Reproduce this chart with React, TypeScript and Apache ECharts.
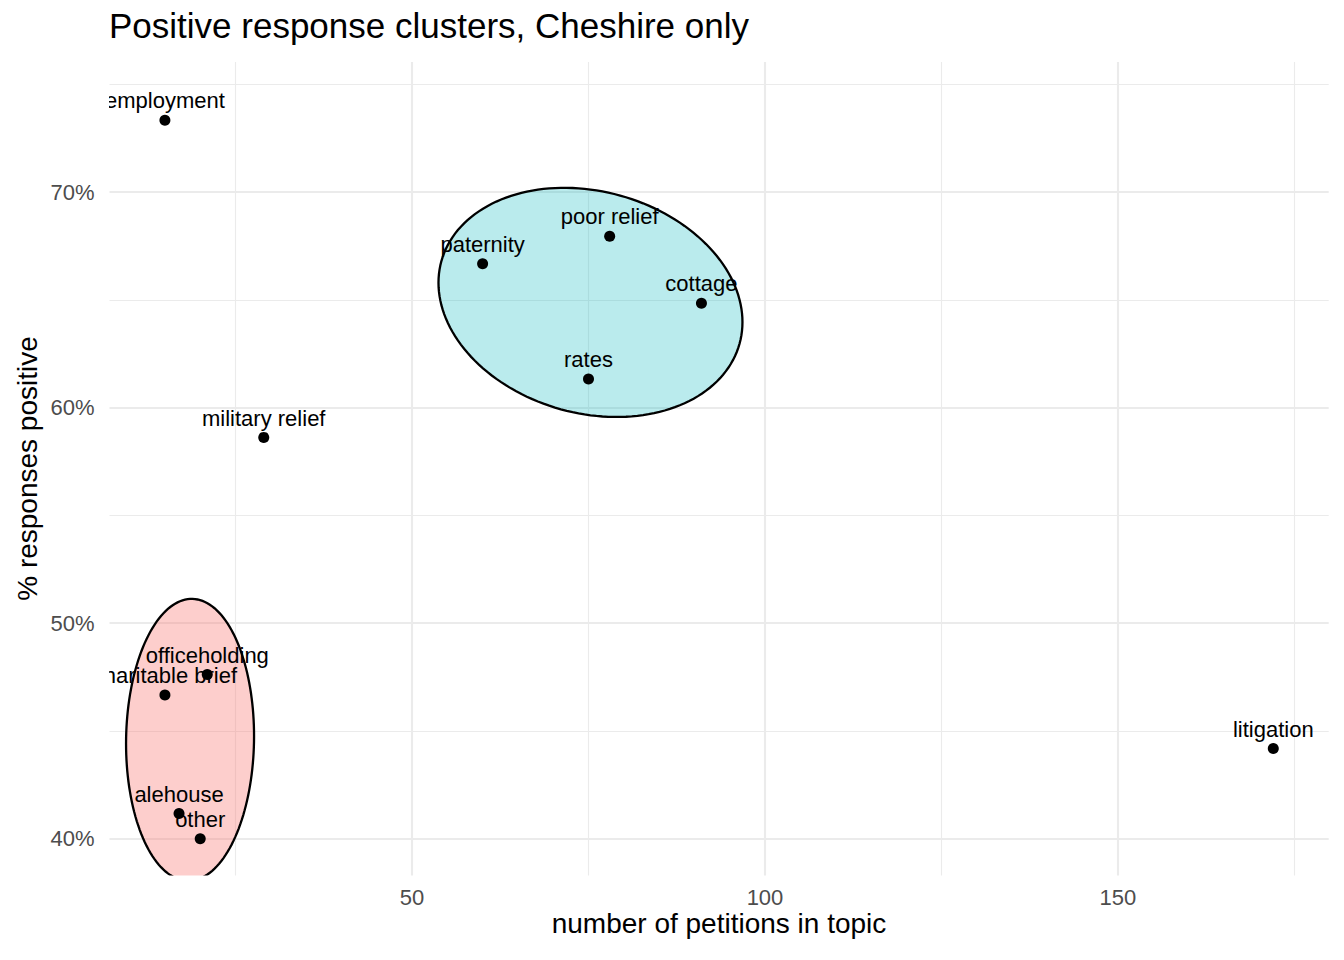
import React, { useEffect, useRef } from "react";
import * as echarts from "echarts";

// ---- data ----
const topics = [
  "employment",
  "paternity",
  "poor relief",
  "cottage",
  "rates",
  "military relief",
  "officeholding",
  "charitable brief",
  "alehouse",
  "other",
  "litigation",
];
const petitionCounts = [15, 60, 78, 91, 75, 29, 21, 15, 17, 20, 172];
const pctPositive = [73.33, 66.67, 67.95, 64.84, 61.33, 58.62, 47.62, 46.67, 41.18, 40.0, 44.19];

const xTickLabels = [50, 100, 150];
const yTickLabels = [40, 50, 60, 70];

// cluster ellipses (centre and covariance, data units)
const clusterNames = ["low", "high"];
const clusterFill = ["rgba(248,110,105,0.34)", "rgba(0,180,190,0.27)"];
const ellipseCenterX = [18.56, 75.28];
const ellipseCenterY = [44.59, 64.88];
const ellipseVarX = [82.18, 463.5];
const ellipseVarY = [42.75, 28.24];
const ellipseCovXY = [1.576, -19.64];

const FONT = '"Liberation Sans", Arial, Helvetica, sans-serif';

export default function App() {
  const ref = useRef<HTMLDivElement>(null);

  useEffect(() => {
    document.body.style.margin = "0";
    if (!ref.current) return;
    const chart = echarts.init(ref.current, undefined, { renderer: "svg" });

    const ellipseData = clusterNames.map((_, i) => [
      ellipseCenterX[i],
      ellipseCenterY[i],
      ellipseVarX[i],
      ellipseVarY[i],
      ellipseCovXY[i],
      i,
    ]);
    const pointData = topics.map((t, i) => [petitionCounts[i], pctPositive[i], i]);

    const gridColor = "#EBEBEB";

    chart.setOption({
      animation: false,
      backgroundColor: "#ffffff",
      textStyle: { fontFamily: FONT },
      grid: { left: 109.5, right: 15.3, top: 62, bottom: 84.5, containLabel: false },
      xAxis: {
        type: "value",
        min: 7.15,
        max: 179.85,
        splitNumber: 4,
        axisLine: { show: false },
        axisTick: { show: false },
        axisLabel: {
          color: "#4D4D4D",
          fontSize: 22,
          lineHeight: 22,
          fontFamily: FONT,
          margin: 11,
          showMinLabel: false,
          showMaxLabel: false,
          formatter: (v: number) => (xTickLabels.includes(v) ? String(v) : ""),
        },
        splitLine: {
          show: true,
          showMinLine: false,
          showMaxLine: false,
          lineStyle: { color: gridColor, width: 2.1 },
        },
        minorTick: { show: false, splitNumber: 2 },
        minorSplitLine: { show: true, lineStyle: { color: gridColor, width: 1.1 } },
      },
      yAxis: {
        type: "value",
        min: 38.3,
        max: 76.03,
        splitNumber: 4,
        axisLine: { show: false },
        axisTick: { show: false },
        axisLabel: {
          color: "#4D4D4D",
          fontSize: 22,
          fontFamily: FONT,
          margin: 15,
          showMinLabel: false,
          showMaxLabel: false,
          formatter: (v: number) => (yTickLabels.includes(v) ? v + "%" : ""),
        },
        splitLine: {
          show: true,
          showMinLine: false,
          showMaxLine: false,
          lineStyle: { color: gridColor, width: 2.1 },
        },
        minorTick: { show: false, splitNumber: 2 },
        minorSplitLine: { show: true, lineStyle: { color: gridColor, width: 1.1 } },
      },
      graphic: [
        {
          type: "text",
          x: 109,
          y: 25.5,
          style: {
            text: "Positive response clusters, Cheshire only",
            fill: "#000",
            font: `35px ${FONT}`,
            align: "left",
            verticalAlign: "middle",
          },
        },
        {
          type: "text",
          x: 719,
          y: 923.5,
          style: {
            text: "number of petitions in topic",
            fill: "#000",
            font: `28px ${FONT}`,
            lineHeight: 28,
            align: "center",
            verticalAlign: "middle",
          },
        },
        {
          type: "text",
          x: 27,
          y: 468.5,
          rotation: Math.PI / 2,
          style: {
            text: "% responses positive",
            fill: "#000",
            font: `28px ${FONT}`,
            align: "center",
            verticalAlign: "middle",
          },
        },
      ],
      series: [
        {
          type: "custom",
          name: "ellipses",
          clip: true,
          z: 2,
          data: ellipseData,
          encode: { x: 0, y: 1 },
          renderItem: (params: any, api: any) => {
            const cx = api.value(0);
            const cy = api.value(1);
            const sxx = api.value(2);
            const syy = api.value(3);
            const sxy = api.value(4);
            const idx = api.value(5);
            const a = Math.sqrt(sxx);
            const b = sxy / a;
            const c = Math.sqrt(Math.max(syy - b * b, 0));
            const pts: number[][] = [];
            const N = 160;
            for (let k = 0; k < N; k++) {
              const t = (2 * Math.PI * k) / N;
              pts.push(api.coord([cx + a * Math.cos(t), cy + b * Math.cos(t) + c * Math.sin(t)]));
            }
            return {
              type: "polygon",
              shape: { points: pts },
              style: { fill: clusterFill[idx], stroke: "#000", lineWidth: 2.3 },
            };
          },
        },
        {
          type: "scatter",
          name: "topics",
          z: 3,
          symbol: "circle",
          symbolSize: 11,
          itemStyle: { color: "#000", opacity: 1 },
          data: pointData,
          encode: { x: 0, y: 1 },
        },
        {
          type: "custom",
          name: "labels",
          clip: true,
          z: 4,
          data: pointData,
          encode: { x: 0, y: 1 },
          renderItem: (params: any, api: any) => {
            const p = api.coord([api.value(0), api.value(1)]);
            const idx = api.value(2);
            return {
              type: "text",
              x: p[0],
              y: p[1] - 19.3,
              style: {
                text: topics[idx],
                fill: "#000",
                font: `22px ${FONT}`,
                align: "center",
                verticalAlign: "middle",
              },
            };
          },
        },
      ],
    });

    return () => chart.dispose();
  }, []);

  return <div ref={ref} style={{ width: 1344, height: 960 }} />;
}
